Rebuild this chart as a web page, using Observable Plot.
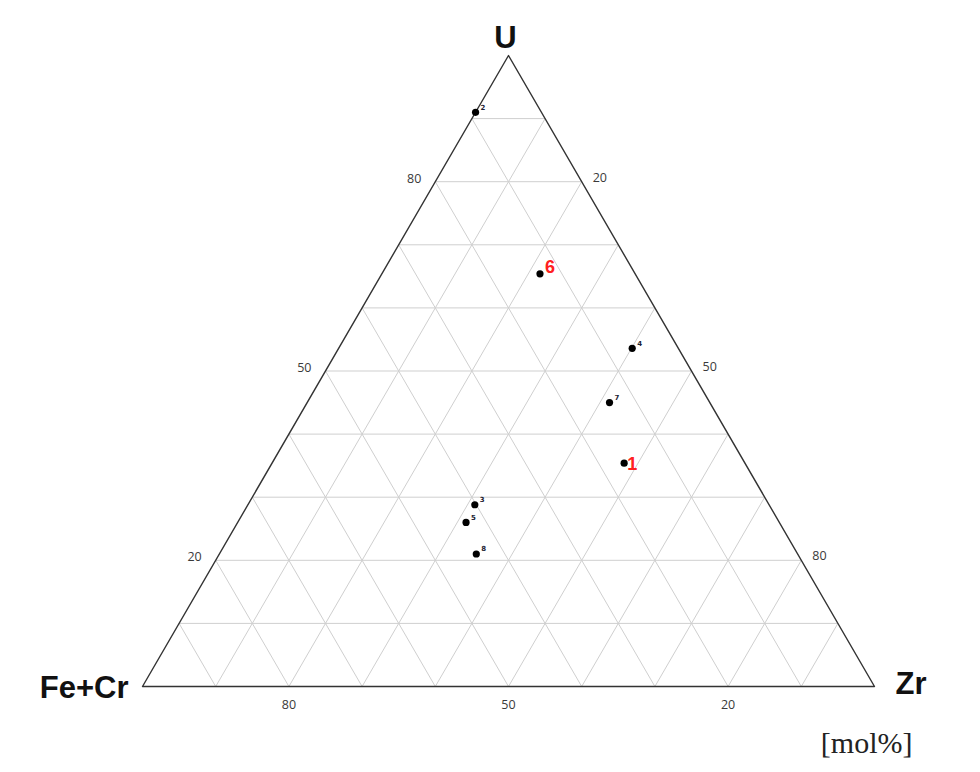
<!DOCTYPE html>
<html>
<head>
<meta charset="utf-8">
<script src="https://cdn.jsdelivr.net/npm/d3@7"></script>
<script src="https://cdn.jsdelivr.net/npm/@observablehq/plot@0.6"></script>
<style>
  html, body { margin: 0; padding: 0; background: #fff; }
  #chart { width: 980px; height: 772px; }
</style>
</head>
<body>
<div id="chart"></div>
<script>
// Sample labels and compositions [mol%]
const sampleIds = ["1", "2", "3", "4", "5", "6", "7", "8"];
const uValues   = [35.4, 91.0, 28.8, 53.6, 26.0, 65.4, 45.0, 21.0];
const zrValues  = [48.1,  0.0, 31.0, 40.1, 31.2, 21.6, 41.3, 35.1];
const feCrValues = uValues.map((u, i) => +(100 - u - zrValues[i]).toFixed(1));
const highlighted = ["1", "6"];

// Grid and tick values [mol%]
const gridSteps = [10, 20, 30, 40, 50, 60, 70, 80, 90];
const tickLabels = [20, 50, 80];

// Vertex names
const vertexTop = "U";
const vertexLeft = "Fe+Cr";
const vertexRight = "Zr";
const unitLabel = "[mol%]";

// ternary -> cartesian (x = Zr + U/2, y = U), both fractions
const tx = (u, zr) => (zr + u / 2) / 100;
const ty = (u) => u / 100;

const samples = sampleIds.map((id, i) => ({
  id, u: uValues[i], zr: zrValues[i], fecr: feCrValues[i],
  x: tx(uValues[i], zrValues[i]), y: ty(uValues[i]),
  big: highlighted.includes(id)
}));

const grid = [];
for (const k of gridSteps) {
  grid.push({x1: tx(k, 0), y1: ty(k), x2: tx(k, 100 - k), y2: ty(k)});
  grid.push({x1: tx(0, k), y1: ty(0), x2: tx(100 - k, k), y2: ty(100 - k)});
  grid.push({x1: tx(0, 100 - k), y1: ty(0), x2: tx(100 - k, 0), y2: ty(100 - k)});
}
const outline = [
  {x: tx(0, 0), y: ty(0)}, {x: tx(100, 0), y: ty(100)},
  {x: tx(0, 100), y: ty(0)}, {x: tx(0, 0), y: ty(0)}
];

const leftTicks = tickLabels.map(k => ({x: tx(k, 0), y: ty(k), t: String(k)}));
const rightTicks = tickLabels.map(k => ({x: tx(100 - k, k), y: ty(100 - k), t: String(k)}));
const bottomTicks = tickLabels.map(k => ({x: tx(0, 100 - k), y: ty(0), t: String(k)}));

const tickFont = {fontFamily: "'Open Sans', 'DejaVu Sans', sans-serif", fontSize: 12.5, fill: "#3a3a3a"};
const vertexFont = {fontFamily: "'Liberation Sans', Arial, sans-serif", fontWeight: "bold", fontSize: 31, fill: "#111"};
const bigLabelFont = {fontFamily: "'Liberation Sans', Arial, sans-serif", fontSize: 18, fontWeight: "bold", fill: "#ff2020"};

const chart = Plot.plot({
  width: 980,
  height: 772,
  margin: 0,
  x: {domain: [0, 1], range: [142, 874], axis: null},
  y: {domain: [0, 1], range: [686, 55], axis: null},
  marks: [
    Plot.link(grid, {x1: "x1", y1: "y1", x2: "x2", y2: "y2", stroke: "#cfcfcf", strokeWidth: 1}),
    Plot.line(outline, {x: "x", y: "y", stroke: "#333", strokeWidth: 1.4}),
    Plot.text(leftTicks, {x: "x", y: "y", text: "t", textAnchor: "end", dx: -14, dy: -3, ...tickFont}),
    Plot.text(rightTicks, {x: "x", y: "y", text: "t", textAnchor: "start", dx: 11, dy: -4, ...tickFont}),
    Plot.text(bottomTicks, {x: "x", y: "y", text: "t", textAnchor: "middle", dy: 18, ...tickFont}),
    Plot.text([vertexTop], {x: tx(100, 0), y: ty(100), text: d => d, textAnchor: "middle", dx: -3, dy: -17, ...vertexFont}),
    Plot.text([vertexLeft], {x: tx(0, 0), y: ty(0), text: d => d, textAnchor: "end", dx: -14, dy: 2, ...vertexFont}),
    Plot.text([vertexRight], {x: tx(0, 100), y: ty(0), text: d => d, textAnchor: "start", dx: 21, dy: -2, ...vertexFont}),
    Plot.dot(samples, {x: "x", y: "y", r: 3.6, fill: "#000", stroke: "none"}),
    Plot.text(samples.filter(d => !d.big), {x: "x", y: "y", text: "id", textAnchor: "start", dx: 5, dy: -5,
      fontFamily: "'DejaVu Sans', sans-serif", fontSize: 7, fontWeight: "bold", fill: "#223"}),
    Plot.text(samples.filter(d => d.id === "6"), {x: "x", y: "y", text: "id", textAnchor: "start", dx: 5, dy: -7, ...bigLabelFont}),
    Plot.text(samples.filter(d => d.id === "1"), {x: "x", y: "y", text: "id", textAnchor: "start", dx: 3, dy: 1, ...bigLabelFont}),
    Plot.text([unitLabel], {frameAnchor: "bottom-right", text: d => d, textAnchor: "end", dx: -68, dy: -20,
      fontFamily: "'Liberation Serif', 'DejaVu Serif', serif", fontSize: 30, fill: "#222"})
  ]
});
document.getElementById("chart").appendChild(chart);
</script>
</body>
</html>
